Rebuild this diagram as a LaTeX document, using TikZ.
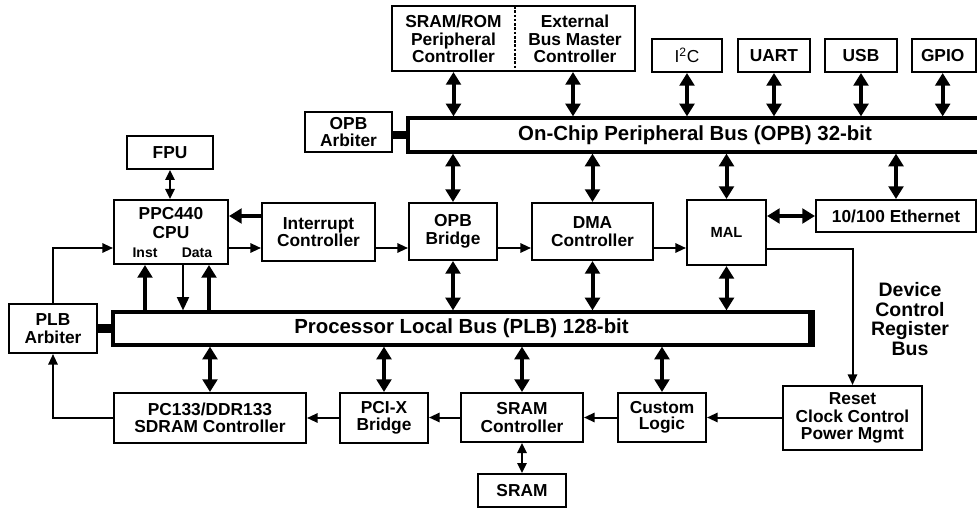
\documentclass[tikz,border=0pt]{standalone}
\usepackage{fontspec}
\setmainfont{Liberation Sans}
\usetikzlibrary{arrows.meta,fit,calc}
\newcommand\bxfont{\fontsize{13}{13.2}\selectfont\bfseries}
\newcommand\tightfont{\fontsize{13}{12.4}\selectfont\bfseries}
\newcommand\busfont{\fontsize{15.3}{16}\selectfont\bfseries}
\newcommand\smlfont{\fontsize{10.5}{11}\selectfont\bfseries}
\newcommand\malfont{\fontsize{11}{12}\selectfont\bfseries}
\newcommand\rgfont{\fontsize{13}{13}\selectfont}
\newcommand\dcrfont{\fontsize{14.6}{14.6}\selectfont\bfseries}
\newcommand\bxnode[5]{\node[box,fit={#2 #3}] (#1) {};
  \node[lbl,#4] (#1-t) at (#1.center) {#5};}
\begin{document}
\begin{tikzpicture}[x=0.75pt,y=-0.75pt,
  box/.style={draw,line width=1.5pt,inner sep=0pt},
  bus/.style={draw,line width=2.4pt,inner sep=0pt},
  lbl/.style={inner sep=0pt,align=center,font=\bxfont},
  dbl/.style={line width=3pt,{Triangle[length=9.5pt,width=11pt]}-{Triangle[length=9.5pt,width=11pt]}},
  upar/.style={line width=3pt,-{Triangle[length=9.5pt,width=11pt]}},
  thinar/.style={line width=1.5pt,-{Triangle[length=8pt,width=7pt]}},
  thindbl/.style={line width=1.5pt,{Triangle[length=7.5pt,width=7pt]}-{Triangle[length=7.5pt,width=7pt]}},
  barlink/.style={line width=6pt}]
\useasboundingbox (0,0) rectangle (977,509);

% top peripheral row
\node[box,fit={(392,6) (635,71)}] (periph) {};
\node[lbl] (sramrom) at (453.5,39) {SRAM/ROM\\Peripheral\\Controller};
\node[lbl] (extbus) at (575,39) {External\\Bus Master\\Controller};
\coordinate (divtop) at (515,6);
\coordinate (divbot) at (515,71);
\draw[line width=1pt,dash pattern=on 2pt off 1.2pt] (divtop) -- (divbot);
\bxnode{iic}{(652,39)}{(722,72)}{font=\rgfont}{I\textsuperscript{2}C}
\bxnode{uart}{(738,39)}{(810,72)}{}{UART}
\bxnode{usb}{(825,39)}{(897,72)}{}{USB}
\bxnode{gpio}{(912,39)}{(976,72)}{xshift=-1pt}{GPIO}

% OPB
\bxnode{opbarb}{(305,112)}{(392,152)}{}{OPB\\Arbiter}
\node[bus,fit={(408,118) (982,152)}] (opb) {};
\node[lbl,font=\busfont] (opb-t) at (opb.center) {On-Chip Peripheral Bus (OPB) 32-bit};

% middle row
\bxnode{fpu}{(127,136)}{(213,169)}{}{FPU}
\node[box,fit={(114,200) (228,264)}] (cpu) {};
\node[lbl,font=\fontsize{13}{14.2}\selectfont\bfseries] (cputxt) at (171,223) {PPC440\\CPU};
\node[inner sep=0pt,font=\smlfont] (inst) at (145,253) {Inst};
\node[inner sep=0pt,font=\smlfont] (data) at (197,253) {Data};
\bxnode{intc}{(262,203)}{(375,261)}{}{Interrupt\\Controller}
\bxnode{bridge}{(409,203)}{(497,260)}{}{OPB\\Bridge}
\bxnode{dma}{(532,203)}{(653,260)}{}{DMA\\Controller}
\bxnode{mal}{(687,200)}{(766,265)}{font=\malfont}{MAL}
\bxnode{ether}{(816,200)}{(976,232)}{}{10/100 Ethernet}
\node[lbl,font=\dcrfont] (dcr) at (910,319) {Device\\Control\\Register\\Bus};

% PLB
\bxnode{plbarb}{(9,304)}{(97,353)}{}{PLB\\Arbiter}
\node[bus,fit={(113,312) (810,345)}] (plb) {};
\node[lbl,font=\busfont] (plb-t) at (plb.center) {Processor Local Bus (PLB) 128-bit};
\draw[line width=2.6pt] ([xshift=1pt]plb.north east) -- ([xshift=1pt]plb.south east);

% bottom row
\bxnode{pc133}{(114,393)}{(306,443)}{}{PC133/DDR133\\SDRAM Controller}
\bxnode{pcix}{(340,393)}{(428,443)}{font=\tightfont}{PCI-X\\Bridge}
\bxnode{sramctl}{(461,393)}{(583,442)}{}{SRAM\\Controller}
\bxnode{custom}{(618,393)}{(706,442)}{font=\tightfont}{Custom\\Logic}
\bxnode{reset}{(783,386)}{(922,450)}{}{Reset\\Clock Control\\Power Mgmt}
\bxnode{sram}{(478,474)}{(566,507)}{}{SRAM}

% bus links to arbiters
\draw[barlink] (opbarb.east |- opb.west) -- (opb.west);
\draw[barlink] (plbarb.east) -- (plb.west |- plbarb.east);

% peripherals <-> OPB
\draw[dbl] (sramrom |- periph.south) -- (sramrom |- opb.north);
\draw[dbl] ([xshift=-1.5pt]extbus.center |- periph.south) -- ([xshift=-1.5pt]extbus.center |- opb.north);
\draw[dbl] (iic.south) -- (iic |- opb.north);
\draw[dbl] (uart.south) -- (uart |- opb.north);
\draw[dbl] (usb.south) -- (usb |- opb.north);
\draw[dbl] ([xshift=-1pt]gpio.south) -- ([xshift=-1pt]gpio.center |- opb.north);

% OPB <-> middle
\draw[dbl] (bridge |- opb.south) -- (bridge.north);
\draw[dbl] (dma |- opb.south) -- (dma.north);
\draw[dbl] (mal |- opb.south) -- (mal.north);
\draw[dbl] (ether |- opb.south) -- (ether.north);
\draw[dbl] (mal.east |- ether.west) -- (ether.west);

% middle <-> PLB
\draw[dbl] (bridge.south) -- (bridge |- plb.north);
\draw[dbl] (dma.south) -- (dma |- plb.north);
\draw[dbl] (mal.south) -- (mal |- plb.north);

% CPU links
\draw[thindbl] (fpu.south) -- (fpu |- cpu.north);
\draw[upar] (plb.north -| inst) -- (cpu.south -| inst);
\draw[thinar,-{Triangle[length=10pt,width=9pt]}] (cpu.south -| 183,0) -- (plb.north -| 183,0);
\draw[upar] (plb.north -| 209,0) -- (cpu.south -| 209,0);
\draw[upar] (intc.west |- 0,216) -- (cpu.east |- 0,216);
\draw[thinar] (cpu.east |- 0,248) -- (intc.west |- 0,248);
\draw[thinar] (intc.east |- 0,248) -- (bridge.west |- 0,248);
\draw[thinar] (bridge.east |- 0,248) -- (dma.west |- 0,248);
\draw[thinar] (dma.east |- 0,248) -- (mal.west |- 0,248);
\draw[thinar] (plbarb.north) |- (cpu.west |- 0,248);

% DCR bus
\draw[thinar] (mal.east |- 0,249) -| (reset.north);

% PLB <-> bottom
\draw[dbl] (pc133 |- plb.south) -- (pc133.north);
\draw[dbl] (pcix |- plb.south) -- (pcix.north);
\draw[dbl] (sramctl |- plb.south) -- (sramctl.north);
\draw[dbl] (custom |- plb.south) -- (custom.north);

% bottom chain
\draw[thinar] (reset.west |- custom.east) -- (custom.east);
\draw[thinar] (custom.west) -- (sramctl.east |- custom.west);
\draw[thinar] (sramctl.west) -- (pcix.east |- sramctl.west);
\draw[thinar] (pcix.west) -- (pc133.east |- pcix.west);
\draw[thinar] (pc133.west) -| (plbarb.south);
\draw[thindbl] (sramctl.south) -- (sram.north);
\end{tikzpicture}
\end{document}
